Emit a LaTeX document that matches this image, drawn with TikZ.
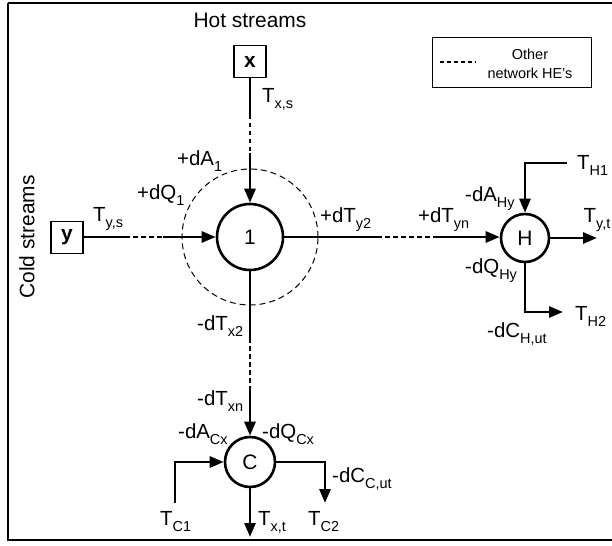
\documentclass[tikz,border=0pt]{standalone}
\usepackage{fontspec}
\setmainfont{Liberation Sans}
\usetikzlibrary{arrows.meta}
\newcommand{\lbsub}[2]{#1\raisebox{-6bp}{\fontsize{14.5}{14.5}\selectfont #2}}
\begin{document}
\begin{tikzpicture}[x=1bp,y=-1bp,
  lbl/.style={font=\fontsize{20.5}{22}\selectfont, inner sep=0pt, anchor=base west},
  hxc/.style={circle, draw, line width=2.6bp, inner sep=0pt, font=\fontsize{21}{22}\selectfont},
  srcbox/.style={draw, line width=1.2bp, minimum size=32bp, inner sep=0pt, font=\bfseries\fontsize{21}{22}\selectfont},
  strm/.style={line width=2.8bp},
  arr/.style={line width=2.8bp, -{Triangle[length=14bp,width=11bp]}},
  netdash/.style={line width=2.6bp, dash pattern=on 4.5bp off 3.5bp},
  ringdash/.style={circle, draw, line width=1bp, dash pattern=on 6bp off 4bp, inner sep=0pt}
]
\useasboundingbox (0,0) rectangle (612,546);
% frame
\draw[line width=2bp] (8,3) -- (630,3) (8,3) -- (8,540) -- (630,540);
% titles
\node[font=\fontsize{21}{22}\selectfont, inner sep=0pt, anchor=base] (hot) at (250,28) {Hot streams};
\node[font=\fontsize{21}{22}\selectfont, inner sep=0pt, rotate=90] (cold) at (27,237) {Cold streams};
% legend
\node[draw, line width=1bp, minimum width=159bp, minimum height=50bp, inner sep=0pt] (leg) at (511.5,63) {};
\coordinate (lga) at (440,62);
\coordinate (lgb) at (476,62);
\draw[line width=2.2bp, dash pattern=on 4bp off 3bp] (lga) -- (lgb);
\node[font=\fontsize{14.5}{19}\selectfont, align=center, inner sep=0pt] (legt) at (530,63.5) {Other\\network HE’s};
% nodes
\node[srcbox] (bx) at (250,61.5) {x};
\node[srcbox] (by) at (67,237.5) {y};
\node[hxc, minimum size=66bp] (c1) at (250,237) {1};
\node[ringdash, minimum size=136bp] (ring) at (250,237) {};
\node[hxc, minimum size=48bp] (H) at (525,238) {H};
\node[hxc, minimum size=50bp] (C) at (250,462) {C};
% hot stream x into 1
\coordinate (xa) at (250,115);
\coordinate (xb) at (250,153);
\draw[strm] (bx.south) -- (xa);
\draw[netdash] (xa) -- (xb);
\draw[arr] (xb) -- (c1.north);
% cold stream y into 1
\coordinate (ya) at (125,237);
\coordinate (yb) at (163,237);
\draw[strm] (by.east |- ya) -- (ya);
\draw[netdash] (ya) -- (yb);
\draw[arr] (yb) -- (c1.west);
% 1 to H
\coordinate (ha) at (377,237);
\coordinate (hb) at (433,237);
\draw[strm] (c1.east) -- (ha);
\draw[netdash] (ha) -- (hb);
\draw[arr] (hb) -- (H.west |- hb);
% 1 to C
\coordinate (ca) at (250,338);
\coordinate (cb) at (250,387);
\draw[strm] (c1.south) -- (ca);
\draw[netdash] (ca) -- (cb);
\draw[arr] (cb) -- (C.north);
% heater utility
\coordinate (h1) at (567,163);
\coordinate (yt) at (597,238);
\coordinate (h2) at (563,312);
\draw[arr] (h1) -| (H.north);
\draw[arr] (H.east) -- (yt);
\draw[arr] (H.south) |- (h2);
% cooler utility
\coordinate (c1in) at (175,503);
\coordinate (c2out) at (325,503);
\coordinate (xt) at (250,537);
\draw[arr] (c1in) |- (C.west);
\draw[arr] (C.east) -| (c2out);
\draw[arr] (C.south) -- (xt);
% labels
\node[lbl] (lTxs) at (262,103) {\lbsub{T}{x,s}};
\node[lbl] (ldA1) at (177,166) {\lbsub{+dA}{1}};
\node[lbl] (ldQ1) at (137,200) {\lbsub{+dQ}{1}};
\node[lbl] (lTys) at (93,222) {\lbsub{T}{y,s}};
\node[lbl] (ldTy2) at (320,223) {\lbsub{+dT}{y2}};
\node[lbl] (ldTyn) at (418,223) {\lbsub{+dT}{yn}};
\node[lbl] (ldAHy) at (465,202) {\lbsub{-dA}{Hy}};
\node[lbl] (lTyt) at (583.5,223) {\lbsub{T}{y,t}};
\node[lbl] (ldQHy) at (465,273) {\lbsub{-dQ}{Hy}};
\node[lbl] (lTH1) at (577,170) {\lbsub{T}{H1}};
\node[lbl] (lTH2) at (575,320) {\lbsub{T}{H2}};
\node[lbl] (ldCH) at (487,337) {\lbsub{-dC}{H,ut}};
\node[lbl] (ldTx2) at (197,330) {\lbsub{-dT}{x2}};
\node[lbl] (ldTxn) at (197,405) {\lbsub{-dT}{xn}};
\node[lbl] (ldACx) at (178,438) {\lbsub{-dA}{Cx}};
\node[lbl] (ldQCx) at (262,438) {\lbsub{-dQ}{Cx}};
\node[lbl] (ldCC) at (332,482) {\lbsub{-dC}{C,ut}};
\node[lbl] (lTC1) at (160,525) {\lbsub{T}{C1}};
\node[lbl] (lTxt) at (258,525) {\lbsub{T}{x,t}};
\node[lbl] (lTC2) at (308,525) {\lbsub{T}{C2}};
\end{tikzpicture}
\end{document}
